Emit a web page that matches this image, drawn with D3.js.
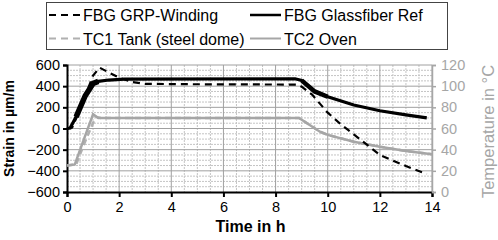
<!DOCTYPE html>
<html>
<head>
<meta charset="utf-8">
<script src="https://cdn.jsdelivr.net/npm/d3@7"></script>
<style>
  body { margin: 0; background: #fff; }
  text { font-family: "Liberation Sans", Arial, sans-serif; }
</style>
</head>
<body>
<div id="chart-area"></div>
<script>
const W = 498, H = 240
const MARGIN = { LEFT: 67, RIGHT: 66, TOP: 65, BOTTOM: 48 }
const WIDTH = W - MARGIN.LEFT - MARGIN.RIGHT
const HEIGHT = H - MARGIN.TOP - MARGIN.BOTTOM

// data: [time h, value]
const grpWinding = [[0,0],[0.2,10],[0.5,180],[1.0,500],[1.25,575],[1.6,530],[2.0,480],[2.5,440],[3,422],[5,418],[8.85,415],[9.0,395],[9.4,320],[10,150],[10.5,40],[11,-55],[12,-250],[13,-355],[13.8,-430]]
const glassRef   = [[0,0],[0.12,5],[0.35,110],[0.7,310],[1.0,425],[1.2,445],[1.6,458],[2.2,466],[8.75,470],[9.0,455],[9.5,350],[10,300],[11,222],[12,168],[13,128],[13.8,100]]
const tc1Tank    = [[0,25],[0.35,26],[0.7,48],[1.1,71],[1.3,70],[8.9,70],[9.7,57],[10,54],[11,47.5],[12,42.8],[13,38.7],[14,35.6]]
const tc2Oven    = [[0,25],[0.3,26],[0.65,50],[1.0,73.5],[1.2,70],[8.9,70],[9.7,57],[10,54],[11,47.5],[12,42.8],[13,38.7],[14,35.6]]

const xTicks = [0,2,4,6,8,10,12,14]
const yTicks = [-600,-400,-200,0,200,400,600]
const tTicks = [0,20,40,60,80,100,120]

const svg = d3.select("#chart-area").append("svg")
  .attr("width", W).attr("height", H)
const g = svg.append("g").attr("transform", `translate(${MARGIN.LEFT},${MARGIN.TOP})`)

const x = d3.scaleLinear().domain([0,14]).range([0, WIDTH])
const y = d3.scaleLinear().domain([-600,600]).range([HEIGHT, 0])
const yT = d3.scaleLinear().domain([0,120]).range([HEIGHT, 0])

// minor grid
g.append("g").selectAll("line").data(d3.range(0, 14.01, 0.5).filter(v => v % 2))
  .join("line").attr("x1", d => x(d)).attr("x2", d => x(d)).attr("y1", 0).attr("y2", HEIGHT)
  .attr("stroke", "#c4c4c4").attr("stroke-dasharray", "2,1")
g.append("g").selectAll("line").data(d3.range(-600, 601, 50).filter(v => v % 200))
  .join("line").attr("y1", d => y(d)).attr("y2", d => y(d)).attr("x1", 0).attr("x2", WIDTH)
  .attr("stroke", "#c4c4c4").attr("stroke-dasharray", "2,1")
// major grid
g.append("g").selectAll("line").data(xTicks.slice(1))
  .join("line").attr("x1", d => x(d)).attr("x2", d => x(d)).attr("y1", 0).attr("y2", HEIGHT)
  .attr("stroke", "#a0a0a0")
g.append("g").selectAll("line").data(yTicks.slice(1))
  .join("line").attr("y1", d => y(d)).attr("y2", d => y(d)).attr("x1", 0).attr("x2", WIDTH)
  .attr("stroke", "#a0a0a0")

// axes
const xAx = g.append("g").attr("transform", `translate(0,${HEIGHT})`)
  .call(d3.axisBottom(x).tickValues(xTicks).tickSize(5).tickPadding(5))
const yAx = g.append("g")
  .call(d3.axisLeft(y).tickValues(yTicks).tickSize(4).tickPadding(3))
const tAx = g.append("g").attr("transform", `translate(${WIDTH},0)`)
  .call(d3.axisRight(yT).tickValues(tTicks).tickSize(4).tickPadding(5))
;[xAx, yAx].forEach(a => {
  a.select(".domain").attr("stroke", "#000").attr("stroke-width", 2)
  a.selectAll(".tick line").attr("stroke", "#000").attr("stroke-width", 2)
  a.selectAll("text").attr("font-size", 14.5).attr("fill", "#000")
    .attr("font-family", "Liberation Sans, Arial, sans-serif")
})
tAx.select(".domain").attr("stroke", "#a6a6a6").attr("stroke-width", 1.5)
tAx.selectAll(".tick line").attr("stroke", "#a6a6a6").attr("stroke-width", 1.5)
tAx.selectAll("text").attr("font-size", 14.5).attr("fill", "#a6a6a6")
  .attr("font-family", "Liberation Sans, Arial, sans-serif")

// series
const lineS = d3.line().x(d => x(d[0])).y(d => y(d[1]))
const lineT = d3.line().x(d => x(d[0])).y(d => yT(d[1]))
g.append("path").datum(tc1Tank).attr("d", lineT).attr("fill", "none")
  .attr("stroke", "#b0b0b0").attr("stroke-width", 2.5).attr("stroke-dasharray", "6,4")
g.append("path").datum(tc2Oven).attr("d", lineT).attr("fill", "none")
  .attr("stroke", "#a6a6a6").attr("stroke-width", 2.5)
g.append("path").datum(grpWinding).attr("d", lineS).attr("fill", "none")
  .attr("stroke", "#000").attr("stroke-width", 2.2).attr("stroke-dasharray", "7,5")
g.append("path").datum(glassRef).attr("d", lineS).attr("fill", "none")
  .attr("stroke", "#000").attr("stroke-width", 3.2)
// noisy heating ramp and cooling knee of the reference fibre look thicker
g.append("path").datum(glassRef.slice(2, 6)).attr("d", lineS).attr("fill", "none")
  .attr("stroke", "#000").attr("stroke-width", 5.5)
g.append("path").datum(glassRef.slice(9, 12)).attr("d", lineS).attr("fill", "none")
  .attr("stroke", "#000").attr("stroke-width", 4.5)

// axis titles
svg.append("text").attr("x", MARGIN.LEFT + WIDTH / 2 + 1).attr("y", 232)
  .attr("text-anchor", "middle").attr("font-size", 16).attr("font-weight", "bold").text("Time in h")
svg.append("text").attr("transform", `translate(14,${MARGIN.TOP + HEIGHT / 2}) rotate(-90)`)
  .attr("text-anchor", "middle").attr("font-size", 14).attr("font-weight", "bold").text("Strain in µm/m")
svg.append("text").attr("transform", `translate(494,${MARGIN.TOP + HEIGHT / 2 + 3}) rotate(-90)`)
  .attr("text-anchor", "middle").attr("font-size", 16.5).attr("fill", "#a6a6a6").text("Temperature in °C")

// legend
const legend = svg.append("g")
legend.append("rect").attr("x", 46.5).attr("y", 2.5).attr("width", 401).attr("height", 47)
  .attr("fill", "#fff").attr("stroke", "#444")
const items = [
  { name: "FBG GRP-Winding", col: "#000", dash: "7,5", w: 2.2, lx: 49, ly: 15 },
  { name: "FBG Glassfiber Ref", col: "#000", dash: null, w: 2.5, lx: 250, ly: 15 },
  { name: "TC1 Tank (steel dome)", col: "#b0b0b0", dash: "7,5", w: 2, lx: 49, ly: 38.5 },
  { name: "TC2 Oven", col: "#a6a6a6", dash: null, w: 2, lx: 250, ly: 38.5 }
]
items.forEach(it => {
  legend.append("line").attr("x1", it.lx).attr("x2", it.lx + 31).attr("y1", it.ly).attr("y2", it.ly)
    .attr("stroke", it.col).attr("stroke-width", it.w).attr("stroke-dasharray", it.dash)
  legend.append("text").attr("x", it.lx + 34).attr("y", it.ly + 6)
    .attr("font-size", 16).attr("fill", "#000").text(it.name)
})
</script>
</body>
</html>
